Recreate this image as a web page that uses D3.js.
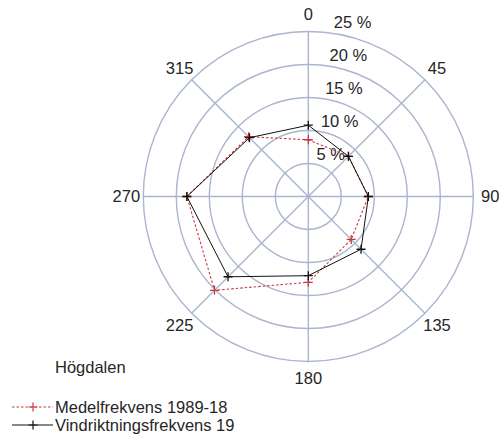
<!DOCTYPE html>
<html>
<head>
<meta charset="utf-8">
<script src="https://cdn.jsdelivr.net/npm/d3@7"></script>
<style>
  html, body { margin: 0; padding: 0; background: #fff; }
  svg { display: block; font-family: "Liberation Sans", Arial, sans-serif; }
</style>
</head>
<body>
<svg id="chart" width="499" height="435"></svg>
<script>
// Wind direction (degrees) and frequency (%) per sector
const directions = [0, 45, 90, 135, 180, 225, 270, 315];
const meanFreq = [8.6, 8.6, 9.1, 9.2, 13.0, 20.1, 18.4, 12.8];   // Medelfrekvens 1989-18
const yearFreq = [10.8, 8.6, 9.1, 11.3, 12.0, 17.2, 18.4, 12.6]; // Vindriktningsfrekvens 19
const ringTicks = [5, 10, 15, 20, 25];
const ringLabels = ["5 %", "10 %", "15 %", "20 %", "25 %"];
const seriesNames = ["Medelfrekvens 1989-18", "Vindriktningsfrekvens 19"];
const stationName = "Högdalen";

const svg = d3.select("#chart");
const cx = 308.3, cy = 196.5;
const fontSize = 16.5;
const r = d3.scaleLinear().domain([0, 25]).range([0, 165]);
const angle = d3.scaleLinear().domain([0, 360]).range([0, 2 * Math.PI]);
const gridColor = "#aab5cf";
const textColor = "#262626";

const g = svg.append("g").attr("transform", `translate(${cx},${cy})`);

// Rings
g.selectAll("circle.ring").data(ringTicks).join("circle")
  .attr("class", "ring")
  .attr("r", d => r(d))
  .attr("fill", "none")
  .attr("stroke", gridColor)
  .attr("stroke-width", 1.4);

// Spokes
g.selectAll("line.spoke").data(directions).join("line")
  .attr("class", "spoke")
  .attr("x1", 0).attr("y1", 0)
  .attr("x2", d => r(25) * Math.sin(angle(d)))
  .attr("y2", d => -r(25) * Math.cos(angle(d)))
  .attr("stroke", gridColor)
  .attr("stroke-width", 1.4);

// Direction labels
g.selectAll("text.dir").data(directions).join("text")
  .attr("class", "dir")
  .attr("x", d => 182 * Math.sin(angle(d)))
  .attr("y", d => -182 * Math.cos(angle(d)))
  .attr("dy", "0.35em")
  .attr("text-anchor", "middle")
  .attr("font-size", fontSize)
  .attr("fill", textColor)
  .text(d => d);

// Ring labels
g.selectAll("text.ring-label").data(ringTicks).join("text")
  .attr("class", "ring-label")
  .attr("x", d => 4 + 0.13 * r(d))
  .attr("y", d => -r(d) - 4)
  .attr("font-size", fontSize)
  .attr("fill", textColor)
  .text((d, i) => ringLabels[i]);

const radial = d3.lineRadial()
  .angle((d, i) => angle(directions[i]))
  .radius(d => r(d))
  .curve(d3.curveLinearClosed);

const series = [
  { name: seriesNames[0], values: meanFreq, color: "#c83a3f", dash: "2.5,2", width: 1.1 },
  { name: seriesNames[1], values: yearFreq, color: "#111", dash: null, width: 1.0 }
];

const plusPath = s => `M${-s},0H${s}M0,${-s}V${s}`;

series.forEach(s => {
  g.append("path")
    .attr("d", radial(s.values))
    .attr("fill", "none")
    .attr("stroke", s.color)
    .attr("stroke-width", s.width)
    .attr("stroke-dasharray", s.dash);
  g.selectAll(null).data(s.values).join("path")
    .attr("transform", (d, i) => `translate(${r(d) * Math.sin(angle(directions[i]))},${-r(d) * Math.cos(angle(directions[i]))})`)
    .attr("d", plusPath(4.5))
    .attr("stroke", s.color)
    .attr("stroke-width", 1.3)
    .attr("fill", "none");
});

// Station name and legend
svg.append("text")
  .attr("x", 55).attr("y", 373)
  .attr("font-size", fontSize).attr("fill", textColor)
  .text(stationName);

const legend = svg.append("g");
series.forEach((s, i) => {
  const y = 407 + i * 18;
  legend.append("line")
    .attr("x1", 12).attr("x2", 53).attr("y1", y).attr("y2", y)
    .attr("stroke", s.color).attr("stroke-width", s.width)
    .attr("stroke-dasharray", s.dash);
  legend.append("path")
    .attr("transform", `translate(33,${y})`)
    .attr("d", plusPath(4.5))
    .attr("stroke", s.color).attr("stroke-width", 1.2);
  legend.append("text")
    .attr("x", 55).attr("y", y).attr("dy", "0.35em")
    .attr("font-size", fontSize).attr("fill", textColor)
    .text(s.name);
});
</script>
</body>
</html>
